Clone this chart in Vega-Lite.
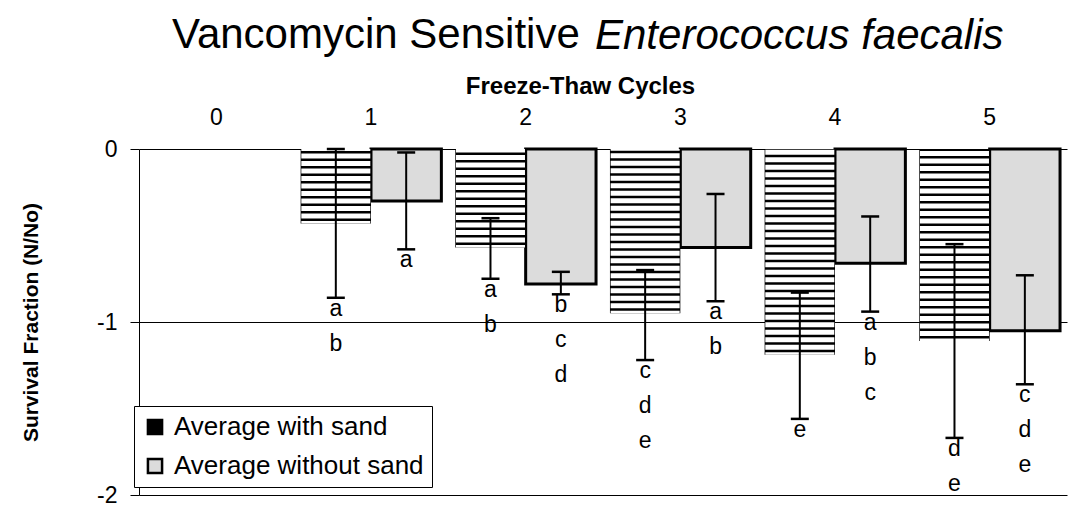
{
  "$schema": "https://vega.github.io/schema/vega-lite/v6.json",
  "width": 928,
  "height": 346,
  "autosize": {"type": "none"},
  "padding": {"left": 139, "top": 149, "right": 9, "bottom": 30},
  "background": "white",
  "config": {"view": {"stroke": null}, "font": "Liberation Sans"},
  "title": {
    "text": "Vancomycin Sensitive",
    "anchor": "start",
    "frame": "group",
    "dx": 33,
    "font": "Liberation Sans",
    "fontSize": 42,
    "fontWeight": "normal",
    "color": "black",
    "offset": -43
  },
  "data": {
    "values": [
      {"cycle": "1", "group": "Average with sand", "mean": -0.43, "lo": -0.86, "hi": 0.0, "letters": "a\nb"},
      {"cycle": "1", "group": "Average without sand", "mean": -0.30, "lo": -0.58, "hi": -0.02, "letters": "a"},
      {"cycle": "2", "group": "Average with sand", "mean": -0.57, "lo": -0.75, "hi": -0.40, "letters": "a\nb"},
      {"cycle": "2", "group": "Average without sand", "mean": -0.78, "lo": -0.84, "hi": -0.71, "letters": "b\nc\nd"},
      {"cycle": "3", "group": "Average with sand", "mean": -0.95, "lo": -1.22, "hi": -0.70, "letters": "c\nd\ne"},
      {"cycle": "3", "group": "Average without sand", "mean": -0.57, "lo": -0.88, "hi": -0.26, "letters": "a\nb"},
      {"cycle": "4", "group": "Average with sand", "mean": -1.19, "lo": -1.56, "hi": -0.83, "letters": "e"},
      {"cycle": "4", "group": "Average without sand", "mean": -0.66, "lo": -0.94, "hi": -0.39, "letters": "a\nb\nc"},
      {"cycle": "5", "group": "Average with sand", "mean": -1.11, "lo": -1.67, "hi": -0.55, "letters": "d\ne"},
      {"cycle": "5", "group": "Average without sand", "mean": -1.05, "lo": -1.36, "hi": -0.73, "letters": "c\nd\ne"}
    ]
  },
  "encoding": {
    "x": {
      "field": "cycle",
      "type": "ordinal",
      "scale": {"domain": ["0", "1", "2", "3", "4", "5"], "paddingInner": 0.09, "paddingOuter": 0.045},
      "axis": {
        "orient": "top",
        "title": "Freeze-Thaw Cycles",
        "labelAngle": 0,
        "ticks": false,
        "domain": false,
        "labelFont": "Liberation Sans",
        "labelFontSize": 23,
        "labelColor": "black",
        "labelPadding": 20,
        "titleFont": "Liberation Sans",
        "titleFontSize": 24,
        "titleFontWeight": "bold",
        "titleColor": "black",
        "titlePadding": 8,
        "titleX": 441
      }
    },
    "xOffset": {"field": "group", "type": "nominal", "scale": {"domain": ["Average with sand", "Average without sand"]}}
  },
  "resolve": {"axis": {"y": "independent"}},
  "layer": [
    {
      "mark": {"type": "bar", "strokeWidth": 3},
      "encoding": {
        "y": {
          "field": "mean",
          "type": "quantitative",
          "scale": {"domain": [-2, 0], "nice": false},
          "axis": {
            "orient": "left",
            "title": "Survival Fraction (N/No)",
            "values": [0, -1, -2],
            "grid": true,
            "gridColor": "black",
            "gridOpacity": 1,
            "gridWidth": 1,
            "domainColor": "black",
            "tickColor": "black",
            "tickSize": 9,
            "labelFont": "Liberation Sans",
            "labelFontSize": 23,
            "labelColor": "black",
            "labelPadding": 13,
            "labelExpr": "datum.value == 0 ? '0' : '-' + abs(datum.value)",
            "titleFont": "Liberation Sans",
            "titleFontSize": 21,
            "titleFontWeight": "bold",
            "titleColor": "black",
            "titlePadding": 55
          }
        },
        "fill": {
          "field": "group",
          "type": "nominal",
          "scale": {"domain": ["Average with sand", "Average without sand"], "range": ["black", "#dcdcdc"]},
          "legend": {
            "title": null,
            "orient": "none",
            "legendX": -5,
            "legendY": 257,
            "padding": 8,
            "strokeColor": "black",
            "fillColor": "white",
            "labelFont": "Liberation Sans",
            "labelFontSize": 26,
            "labelColor": "black",
            "labelLimit": 500,
            "labelOffset": 6,
            "symbolType": "square",
            "symbolSize": 200,
            "symbolStrokeWidth": 2.5,
            "symbolStrokeColor": "black",
            "rowPadding": 13
          }
        },
        "stroke": {"condition": {"test": "datum.group === 'Average without sand'", "value": "black"}, "value": "transparent"}
      }
    },
    {
      "transform": [{"filter": "datum.group === 'Average with sand'"}],
      "mark": {"type": "rule", "strokeWidth": 69, "strokeDash": [5, 2.5], "strokeDashOffset": 2.5, "color": "white", "strokeCap": "butt"},
      "encoding": {
        "y": {
          "field": "mean",
          "type": "quantitative",
          "axis": {
            "orient": "right",
            "title": "Enterococcus faecalis",
            "labels": false,
            "ticks": false,
            "domain": false,
            "grid": false,
            "titleAngle": 0,
            "titleAlign": "left",
            "titleBaseline": "alphabetic",
            "titleX": -472.5,
            "titleY": -101,
            "titleFont": "Liberation Sans",
            "titleFontSize": 42,
            "titleFontStyle": "italic",
            "titleFontWeight": "normal",
            "titleColor": "black"
          }
        },
        "y2": {"datum": 0}
      }
    },
    {
      "mark": {"type": "rule", "strokeWidth": 2, "color": "black"},
      "encoding": {
        "y": {"field": "lo", "type": "quantitative", "axis": null},
        "y2": {"field": "hi"}
      }
    },
    {
      "mark": {"type": "tick", "orient": "horizontal", "size": 18, "thickness": 2.5, "color": "black", "opacity": 1},
      "encoding": {"y": {"field": "lo", "type": "quantitative", "axis": null}}
    },
    {
      "mark": {"type": "tick", "orient": "horizontal", "size": 18, "thickness": 2.5, "color": "black", "opacity": 1},
      "encoding": {"y": {"field": "hi", "type": "quantitative", "axis": null}}
    },
    {
      "mark": {"type": "text", "baseline": "top", "lineBreak": "\n", "lineHeight": 35, "font": "Liberation Sans", "fontSize": 23, "dy": 0, "color": "black"},
      "encoding": {
        "y": {"field": "lo", "type": "quantitative", "axis": null},
        "text": {"field": "letters"}
      }
    }
  ]
}
